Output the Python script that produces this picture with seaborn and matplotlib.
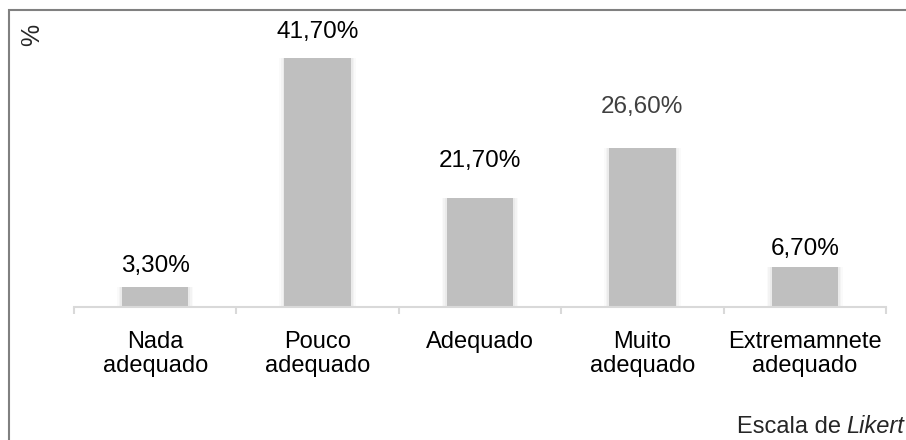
import matplotlib
matplotlib.use("Agg")
import matplotlib.pyplot as plt
import seaborn as sns
import pandas as pd
from matplotlib.patches import Rectangle

categories = ["Nada\nadequado", "Pouco\nadequado", "Adequado", "Muito\nadequado", "Extremamnete\nadequado"]
bar_values = [3.3, 41.7, 18.3, 26.6, 6.7]
value_labels = ["3,30%", "41,70%", "21,70%", "26,60%", "6,70%"]
label_heights = [5.9, 45.1, 23.5, 32.6, 8.7]
label_colors = ["#000000", "#000000", "#000000", "#404040", "#000000"]

sns.set_theme(style="white")
plt.rcParams["font.family"] = ["Liberation Sans", "DejaVu Sans"]

df = pd.DataFrame({"cat": categories, "val": bar_values})

fig = plt.figure(figsize=(9.06, 4.4), dpi=100)
ax = fig.add_axes([74 / 906, 133 / 440, 812 / 906, 295 / 440])

# soft shadow layers
for w, a in [(0.47, 0.10), (0.45, 0.15), (0.43, 0.22)]:
    sns.barplot(data=df, x="cat", y="val", color="#d0d0d0", width=w,
                saturation=1, ax=ax, edgecolor="none", alpha=a)
sns.barplot(data=df, x="cat", y="val", color="#bfbfbf", width=0.41,
            saturation=1, ax=ax, edgecolor="none")

for i, (t, h, c) in enumerate(zip(value_labels, label_heights, label_colors)):
    ax.text(i, h, t, ha="center", va="baseline", fontsize=17.5, color=c)

ax.set_xlim(-0.5, len(categories) - 0.5)
ax.set_ylim(0, 295 / 5.96)
ax.set_xlabel("")
ax.set_ylabel("")
ax.set_yticks([])
for s in ["top", "right", "left"]:
    ax.spines[s].set_visible(False)
ax.spines["bottom"].set_color("#d9d9d9")
ax.spines["bottom"].set_linewidth(1.5)
ax.set_xticks([i - 0.5 for i in range(len(categories) + 1)], minor=True)
ax.tick_params(axis="x", which="minor", length=5, width=1.5, color="#d9d9d9", bottom=True)
ax.tick_params(axis="x", which="major", length=0, pad=17, labelsize=17, labelcolor="#000000")
for lbl in ax.get_xticklabels():
    lbl.set_linespacing(1.15)

fig.patches.append(Rectangle((8.5 / 906, -0.1), 1.2, 1.1 - 10.5 / 440, transform=fig.transFigure,
                             fill=False, edgecolor="#808080", linewidth=1.5, zorder=0))

fig.text(32 / 906, 1 - 35 / 440, "%", rotation=90, ha="center", va="center", fontsize=18)
t1 = fig.text(737 / 906, 1 - 433 / 440, "Escala de", ha="left", va="baseline", fontsize=17)
fig.canvas.draw()
bb = t1.get_window_extent()
space_px = 5
fig.text((bb.x1 + space_px) / 906, 1 - 433 / 440, "Likert", ha="left", va="baseline",
         fontsize=17, style="italic")

fig.savefig("out.png", dpi=100)
